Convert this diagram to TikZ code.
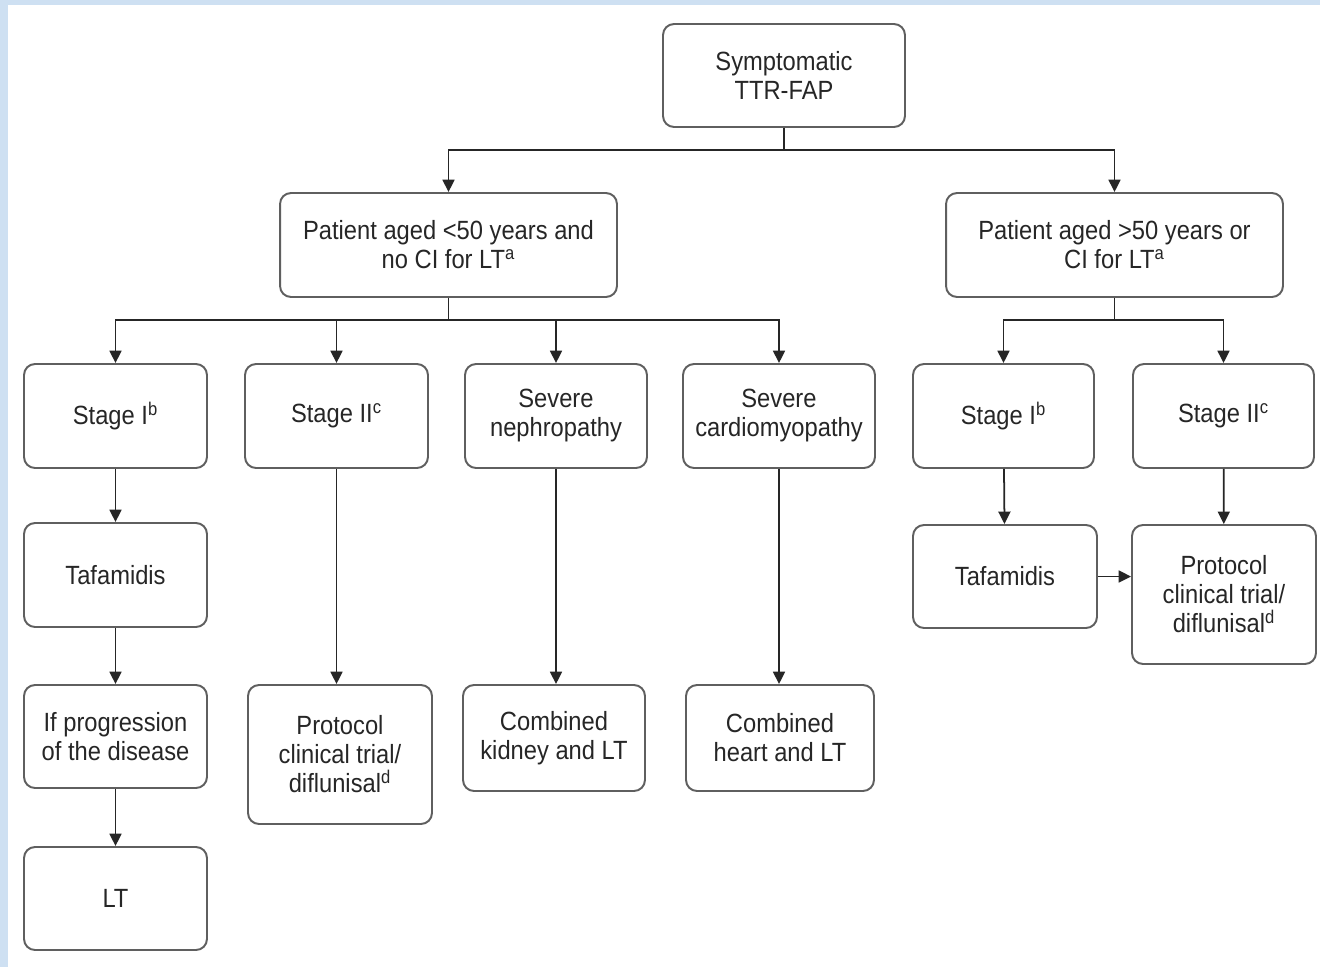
\documentclass[tikz,border=0pt]{standalone}
\usepackage{fontspec}
\setmainfont{Liberation Sans}[FakeStretch=0.9]
\usepackage{xcolor}
\usepackage{tikz}
\usetikzlibrary{arrows.meta}
\definecolor{pagebg}{RGB}{206,224,242}
\definecolor{boxline}{RGB}{95,95,95}

\begin{document}
\begin{tikzpicture}[x=0.02cm, y=-0.02cm,
  box/.style={draw=boxline, line width=1.1pt, rounded corners=0.22cm, fill=white,
    align=center, text=black!85, inner sep=2pt,
    font=\fontsize{15}{16.5}\selectfont},
  arr/.style={draw=black!85, line width=1pt, -{Triangle[length=0.25cm, width=0.24cm]}},
  link/.style={draw=black!85, line width=1pt}]
% 0. Page: blue strip left and top, white sheet
\fill[pagebg] (0,0) rectangle (1320,967);
\fill[white] (8,5) rectangle (1320,967);
\useasboundingbox (0,0) rectangle (1320,967);

% 1. Boxes -- all centres absolute (pixel grid)
\node[box, minimum width=4.84cm, minimum height=2.06cm] (top) at (784,75.5) {Symptomatic\\TTR-FAP};
\node[box, minimum width=6.74cm, minimum height=2.08cm] (young) at (448.5,245) {Patient aged <50 years and\\no CI for LT\textsuperscript{a}};
\node[box, minimum width=6.74cm, minimum height=2.08cm] (old) at (1114.5,245) {Patient aged >50 years or\\CI for LT\textsuperscript{a}};

% left branch
\node[box, minimum width=3.66cm, minimum height=2.08cm] (ysI) at (115.5,416) {Stage I\textsuperscript{b}};
\node[box, minimum width=3.66cm, minimum height=2.08cm] (ysII) at (336.5,416) {Stage II\textsuperscript{c}};
\node[box, minimum width=3.64cm, minimum height=2.08cm] (neph) at (556,416) {Severe\\nephropathy};
\node[box, minimum width=3.84cm, minimum height=2.08cm] (card) at (779,416) {Severe\\cardiomyopathy};
\node[box, minimum width=3.66cm, minimum height=2.08cm] (ytaf) at (115.5,575) {Tafamidis};
\node[box, minimum width=3.66cm, minimum height=2.06cm] (prog) at (115.5,736.5) {If progression\\of the disease};
\node[box, minimum width=3.66cm, minimum height=2.06cm] (lt) at (115.5,898.5) {LT};
\node[box, minimum width=3.68cm, minimum height=2.78cm] (yprot) at (340,754.5) {Protocol\\clinical trial/\\diflunisal\textsuperscript{d}};
\node[box, minimum width=3.64cm, minimum height=2.12cm] (kidney) at (554,738) {Combined\\kidney and LT};
\node[box, minimum width=3.76cm, minimum height=2.12cm] (heart) at (780,738) {Combined\\heart and LT};

% right branch
\node[box, minimum width=3.62cm, minimum height=2.08cm] (osI) at (1003.5,416) {Stage I\textsuperscript{b}};
\node[box, minimum width=3.62cm, minimum height=2.08cm] (osII) at (1223.5,416) {Stage II\textsuperscript{c}};
\node[box, minimum width=3.68cm, minimum height=2.06cm] (otaf) at (1005,576.5) {Tafamidis};
\node[box, minimum width=3.68cm, minimum height=2.78cm] (oprot) at (1224,594.5) {Protocol\\clinical trial/\\diflunisal\textsuperscript{d}};

% 2. Junctions
\coordinate (jtop) at (784,150);
\coordinate (jyoung) at (448.5,320);
\coordinate (jold) at (1114.5,320);

% 3. Connectors
\draw[link] (top.south) -- (jtop);
\draw[arr] (jtop) -| (young.north);
\draw[arr] (jtop) -| (old.north);

\draw[link] (young.south) -- (jyoung);
\foreach \n in {ysI,ysII,neph,card}
  \draw[arr] (jyoung) -| (\n.north);
\draw[link] (old.south) -- (jold);
\foreach \n in {osI,osII}
  \draw[arr] (jold) -| (\n.north);

\draw[arr] (ysI) -- (ytaf);
\draw[arr] (ytaf) -- (prog);
\draw[arr] (prog) -- (lt);
\draw[arr] (ysII.south) -- (ysII.south |- yprot.north);
\draw[arr] (neph.south) -- (neph.south |- kidney.north);
\draw[arr] (card.south) -- (card.south |- heart.north);

\draw[arr] (osI) -- (otaf);
\draw[arr] (osII) -- (oprot);
\draw[arr] (otaf.east) -- (oprot.west |- otaf.east);

\end{tikzpicture}
\end{document}
